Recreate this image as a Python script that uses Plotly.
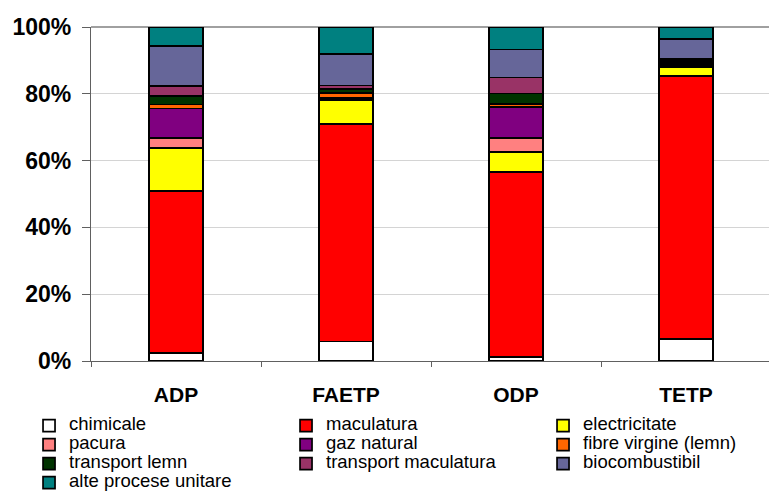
import plotly.graph_objects as go

# Impact categories (x axis)
categories = ["ADP", "FAETP", "ODP", "TETP"]

# Contribution of each process to each impact category, in percent
chimicale = [2.3, 5.8, 1.1, 6.5]
maculatura = [48.7, 65.2, 55.4, 78.9]
electricitate = [12.7, 7.0, 6.0, 2.7]
pacura = [3.0, 0.4, 4.2, 0.3]
gaz_natural = [8.9, 0.5, 9.3, 0.2]
fibre_virgine = [1.2, 1.4, 0.9, 0.7]
transport_lemn = [2.5, 1.2, 3.2, 0.6]
transport_maculatura = [3.1, 1.0, 4.8, 0.6]
biocombustibil = [12.0, 9.4, 8.4, 5.9]
alte_procese = [5.6, 8.1, 6.7, 3.6]

y_ticks = [0, 20, 40, 60, 80, 100]
y_tick_labels = ["0%", "20%", "40%", "60%", "80%", "100%"]

series = [
    ("chimicale", chimicale, "#FFFFFF"),
    ("maculatura", maculatura, "#FF0000"),
    ("electricitate", electricitate, "#FFFF00"),
    ("pacura", pacura, "#FF8080"),
    ("gaz natural", gaz_natural, "#800080"),
    ("fibre virgine (lemn)", fibre_virgine, "#FF6600"),
    ("transport lemn", transport_lemn, "#003300"),
    ("transport maculatura", transport_maculatura, "#993366"),
    ("biocombustibil", biocombustibil, "#666699"),
    ("alte procese unitare", alte_procese, "#008080"),
]

FONT = "Liberation Sans, Arial, sans-serif"

fig = go.Figure()
for name, values, color in series:
    fig.add_trace(go.Bar(
        x=categories,
        y=values,
        name='<span style="font-size:18.5px">' + name + '</span>',
        marker=dict(color=color, line=dict(color="#000000", width=1.7)),
        width=0.32,
    ))

fig.update_layout(
    barmode="stack",
    width=769,
    height=494,
    margin=dict(l=91, r=0, t=27, b=133, autoexpand=False),
    paper_bgcolor="#FFFFFF",
    plot_bgcolor="#FFFFFF",
    font=dict(family=FONT, color="#000000"),
    showlegend=True,
    legend=dict(
        orientation="h",
        x=-0.0914,
        xanchor="left",
        y=-0.150,
        yanchor="top",
        font=dict(family=FONT, size=11, color="#000000"),
        entrywidth=212,
        entrywidthmode="pixels",
        traceorder="normal",
        itemclick=False,
        itemdoubleclick=False,
    ),
    xaxis=dict(
        type="category",
        range=[-0.5, 3.488],
        showline=True,
        linecolor="#606060",
        linewidth=1.2,
        ticks="outside",
        tickson="boundaries",
        ticklen=5,
        tickcolor="#606060",
        showgrid=False,
        tickfont=dict(family=FONT, size=21, color="#000000", weight="bold"),
        ticklabelstandoff=15,
    ),
    yaxis=dict(
        range=[0, 100],
        tickvals=y_ticks,
        ticktext=y_tick_labels,
        showline=True,
        linecolor="#606060",
        linewidth=1.2,
        ticks="outside",
        ticklen=8,
        tickcolor="#606060",
        showgrid=True,
        gridcolor="#D4D4D4",
        gridwidth=1,
        zeroline=False,
        tickfont=dict(family=FONT, size=23, color="#000000", weight="bold"),
        ticklabelstandoff=6,
    ),
    shapes=[dict(
        type="line", xref="paper", yref="paper",
        x0=0, x1=1, y0=1, y1=1,
        line=dict(color="#A0A0A0", width=2),
        layer="below",
    )],
)

fig.write_html("out.html")
